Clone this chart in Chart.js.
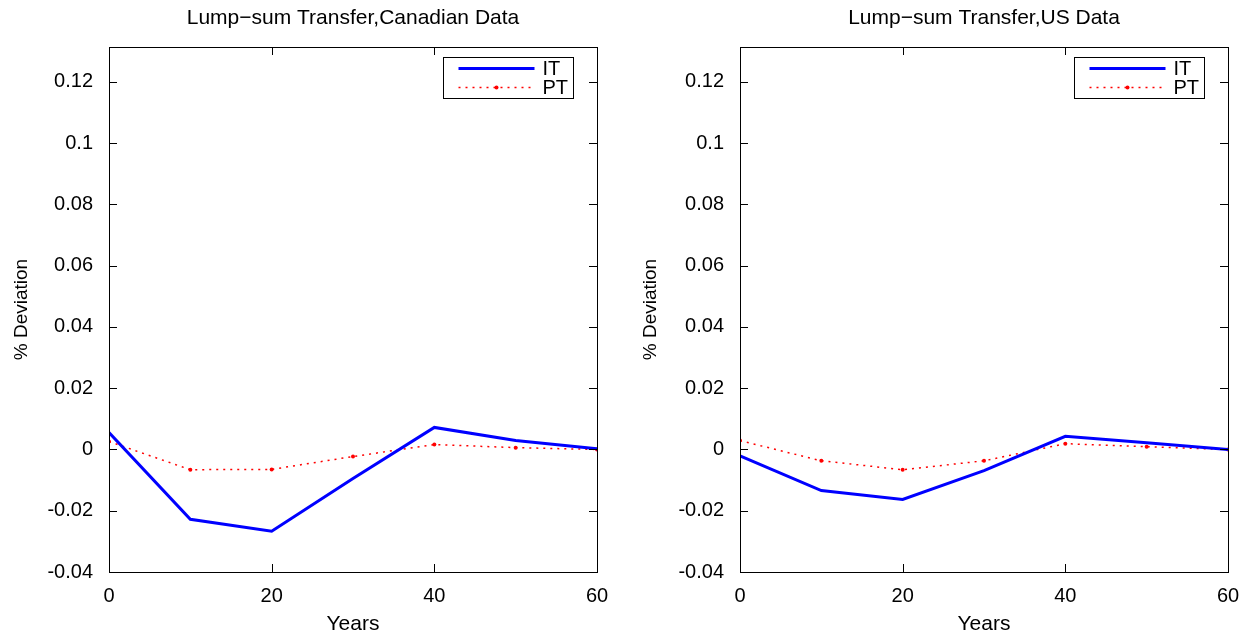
<!DOCTYPE html>
<html>
<head>
<meta charset="utf-8">
<script src="https://cdn.jsdelivr.net/npm/chart.js@4.4.1/dist/chart.umd.min.js"></script>
<style>
  html, body { margin: 0; padding: 0; background: #fff; }
  .row { display: flex; width: 1258px; height: 637px; }
  .cell { width: 629px; height: 637px; position: relative; }
</style>
</head>
<body>
<div class="row">
  <div class="cell"><canvas id="canadaChart" width="629" height="637"></canvas></div>
  <div class="cell"><canvas id="usChart" width="629" height="637"></canvas></div>
</div>
<script>
// data
const years = [0, 10, 20, 30, 40, 50, 60];
const canadaIT = [0.0055, -0.0228, -0.0267, -0.0095, 0.0072, 0.0029, 0.0002];
const canadaPT = [0.0026, -0.0066, -0.0065, -0.0023, 0.0016, 0.0006, 0.0];
const usIT = [-0.0021, -0.0134, -0.0163, -0.0069, 0.0043, 0.0022, 0.0];
const usPT = [0.0029, -0.0037, -0.0066, -0.0037, 0.0019, 0.0009, 0.0];
const xTicks = [0, 20, 40, 60];
const yTicks = [-0.04, -0.02, 0, 0.02, 0.04, 0.06, 0.08, 0.1, 0.12];
const seriesNames = ['IT', 'PT'];

const FONT = 'Liberation Sans, Arial, Helvetica, sans-serif';

function pts(xs, ys) {
  return xs.map((x, i) => ({ x: x, y: ys[i] }));
}

// frame, inward ticks, title and legend (matlab look)
const matlabDecor = {
  id: 'matlabDecor',
  afterDraw(chart, args, opts) {
    const ctx = chart.ctx;
    const a = chart.chartArea;
    const xs = chart.scales.x, ys = chart.scales.y;
    ctx.save();
    ctx.strokeStyle = '#000';
    ctx.lineWidth = 1;
    ctx.strokeRect(Math.round(a.left) + 0.5, Math.round(a.top) + 0.5,
      Math.round(a.right - a.left), Math.round(a.bottom - a.top));
    const tl = 8;
    ctx.beginPath();
    xTicks.forEach(v => {
      const px = Math.round(xs.getPixelForValue(v)) + 0.5;
      ctx.moveTo(px, a.bottom); ctx.lineTo(px, a.bottom - tl);
      ctx.moveTo(px, a.top); ctx.lineTo(px, a.top + tl);
    });
    yTicks.forEach(v => {
      const py = Math.round(ys.getPixelForValue(v)) + 0.5;
      ctx.moveTo(a.left, py); ctx.lineTo(a.left + tl, py);
      ctx.moveTo(a.right, py); ctx.lineTo(a.right - tl, py);
    });
    ctx.stroke();

    // title
    ctx.fillStyle = '#000';
    ctx.font = '21px ' + FONT;
    ctx.textAlign = 'center';
    ctx.textBaseline = 'middle';
    ctx.fillText(opts.title, (a.left + a.right) / 2, 18);

    // legend box
    const bw = 130, bh = 41;
    const bx = Math.round(a.right) - 24 - bw + 0.5;
    const by = Math.round(a.top) + 10 + 0.5;
    ctx.fillStyle = '#fff';
    ctx.fillRect(bx, by, bw, bh);
    ctx.strokeStyle = '#000';
    ctx.strokeRect(bx, by, bw, bh);
    const ds = chart.data.datasets;
    const rowsY = [by + 11, by + 30];
    ds.forEach((d, i) => {
      ctx.save();
      ctx.strokeStyle = d.borderColor;
      ctx.lineWidth = d.borderWidth;
      ctx.setLineDash(d.borderDash || []);
      ctx.beginPath();
      ctx.moveTo(bx + 15, rowsY[i]);
      ctx.lineTo(bx + 91, rowsY[i]);
      ctx.stroke();
      if (d.pointRadius > 0) {
        ctx.fillStyle = d.pointBackgroundColor;
        ctx.beginPath();
        ctx.arc(bx + 53, rowsY[i], d.pointRadius, 0, Math.PI * 2);
        ctx.fill();
      }
      ctx.restore();
      ctx.fillStyle = '#000';
      ctx.font = '20px ' + FONT;
      ctx.textAlign = 'left';
      ctx.fillText(d.label, bx + 99, rowsY[i] + 1);
    });
    ctx.restore();
  }
};

function makeChart(id, title, itVals, ptVals, axisWidth, padRight) {
  const el = document.getElementById(id);
  return new Chart(el.getContext('2d'), {
    type: 'line',
    data: {
      datasets: [{
        label: seriesNames[0],
        data: pts(years, itVals),
        borderColor: '#0000ff',
        borderWidth: 3,
        pointRadius: 0,
        tension: 0
      }, {
        label: seriesNames[1],
        data: pts(years, ptVals),
        borderColor: '#ff0000',
        borderWidth: 1.5,
        borderDash: [2, 5],
        pointRadius: 2,
        pointBackgroundColor: '#ff0000',
        pointBorderWidth: 0,
        tension: 0
      }]
    },
    options: {
      responsive: false,
      animation: false,
      layout: { padding: { top: 47, right: padRight, bottom: 0, left: 0 } },
      plugins: {
        legend: { display: false },
        tooltip: { enabled: false },
        matlabDecor: { title: title }
      },
      scales: {
        x: {
          type: 'linear',
          min: 0, max: 60,
          grid: { display: false, drawTicks: false },
          border: { display: false },
          afterBuildTicks: s => { s.ticks = xTicks.map(v => ({ value: v })); },
          afterFit: s => { s.height = 65; },
          ticks: { color: '#000', padding: 12, font: { size: 20, family: FONT } },
          title: { display: true, text: 'Years', color: '#000', padding: { top: 0, bottom: 0 },
                   font: { size: 21, family: FONT } }
        },
        y: {
          type: 'linear',
          min: -0.04, max: 0.1314,
          grid: { display: false, drawTicks: false },
          border: { display: false },
          afterBuildTicks: s => { s.ticks = yTicks.map(v => ({ value: v })); },
          afterFit: s => { s.width = axisWidth; },
          ticks: {
            color: '#000', padding: 16, font: { size: 20, family: FONT },
            callback: v => String(+v.toFixed(2))
          },
          title: { display: true, text: '% Deviation', color: '#000', padding: { top: 10, bottom: 0 },
                   font: { size: 19, family: FONT } }
        }
      }
    },
    plugins: [matlabDecor]
  });
}

makeChart('canadaChart', 'Lump\u2212sum Transfer,Canadian Data', canadaIT, canadaPT, 109, 32);
makeChart('usChart', 'Lump\u2212sum Transfer,US Data', usIT, usPT, 111, 30);
</script>
</body>
</html>
